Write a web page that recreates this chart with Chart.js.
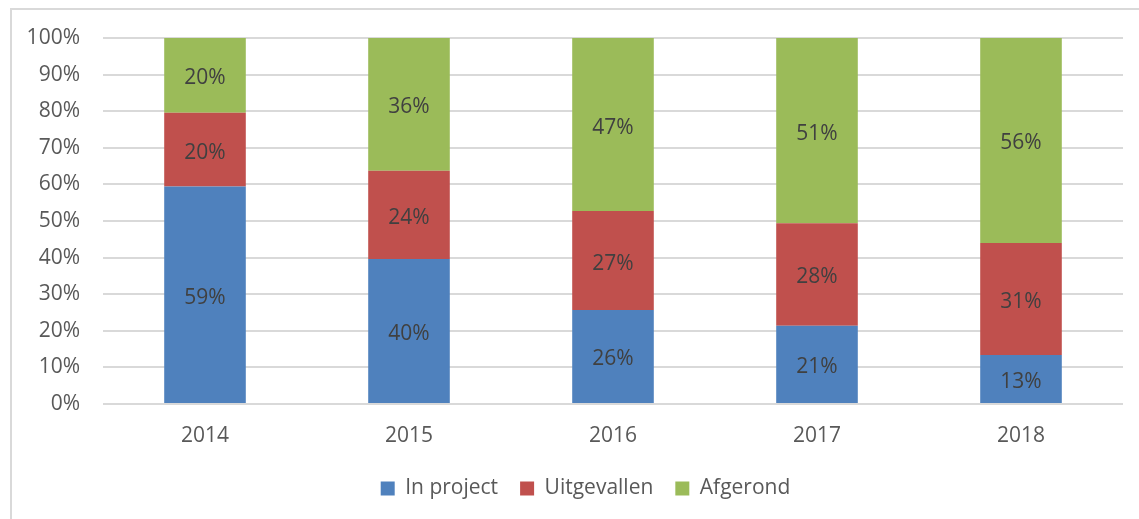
<!DOCTYPE html>
<html>
<head>
    <title>In project / Uitgevallen / Afgerond</title>
    <script src="https://cdn.jsdelivr.net/npm/chart.js@4.4.1/dist/chart.umd.min.js"></script>
    <style>
        html, body {
            margin: 0;
            padding: 0;
            background: #ffffff;
            overflow: hidden;
        }
        #frame {
            position: absolute;
            left: 10px;
            top: 8px;
            width: 1129px;
            height: 511px;
            border-left: 2px solid #d9d9d9;
            border-top: 2px solid #d9d9d9;
        }
        #chart-container {
            position: absolute;
            left: 0;
            top: 0;
            width: 1139px;
            height: 519px;
        }
    </style>
</head>
<body>
    <div id="frame"></div>
    <div id="chart-container">
        <canvas id="statusChart"></canvas>
    </div>
    <script>
        const years = ['2014', '2015', '2016', '2017', '2018'];
        const inProject = [59.4, 39.6, 25.7, 21.4, 13.4];   // %
        const uitgevallen = [20.2, 24.1, 27.0, 28.0, 30.6];  // %
        const afgerond = [20.4, 36.3, 47.3, 50.6, 56.0];     // %
        const yTicks = [0, 10, 20, 30, 40, 50, 60, 70, 80, 90, 100];

        const fontFamily = "'Open Sans', 'Noto Sans', sans-serif";

        // draw the percentage in the middle of every segment
        const segmentLabels = {
            id: 'segmentLabels',
            afterDatasetsDraw(chart) {
                const ctx = chart.ctx;
                ctx.save();
                ctx.font = '21px ' + fontFamily;
                ctx.fillStyle = '#404040';
                ctx.textAlign = 'center';
                ctx.textBaseline = 'middle';
                chart.data.datasets.forEach((ds, i) => {
                    const meta = chart.getDatasetMeta(i);
                    meta.data.forEach((bar, j) => {
                        const p = bar.getProps(['x', 'y', 'base'], true);
                        ctx.fillText(Math.round(ds.data[j]) + '%', p.x, (p.y + p.base) / 2 + 3);
                    });
                });
                ctx.restore();
            }
        };

        // the legend sits a little right of the canvas centre in the original
        const legendShift = {
            id: 'legendShift',
            afterLayout(chart) {
                if (chart.legend) {
                    chart.legend.left += 24;
                    chart.legend.right += 24;
                }
            }
        };

        const ctx = document.getElementById('statusChart').getContext('2d');
        new Chart(ctx, {
            type: 'bar',
            data: {
                labels: years,
                datasets: [
                    { label: 'In project', data: inProject, backgroundColor: '#4f81bd' },
                    { label: 'Uitgevallen', data: uitgevallen, backgroundColor: '#c0504d' },
                    { label: 'Afgerond', data: afgerond, backgroundColor: '#9bbb59' }
                ]
            },
            options: {
                responsive: true,
                maintainAspectRatio: false,
                animation: false,
                datasets: {
                    bar: { barPercentage: 0.4, categoryPercentage: 1.0 }
                },
                layout: {
                    padding: { top: 38, right: 16, bottom: 10, left: 0 }
                },
                scales: {
                    x: {
                        stacked: true,
                        grid: { display: false },
                        border: { display: false },
                        ticks: {
                            color: '#595959',
                            font: { family: fontFamily, size: 21 },
                            padding: 11
                        },
                        afterFit(scale) { scale.height = 52; }
                    },
                    y: {
                        stacked: true,
                        min: 0,
                        max: 100,
                        afterBuildTicks(scale) {
                            scale.ticks = yTicks.map(v => ({ value: v }));
                        },
                        grid: { color: '#d9d9d9', lineWidth: 2, drawTicks: false },
                        border: { display: false },
                        ticks: {
                            color: '#595959',
                            font: { family: fontFamily, size: 21 },
                            padding: 23,
                            callback: v => v + '%'
                        },
                        afterFit(scale) { scale.width = 103; }
                    }
                },
                plugins: {
                    legend: {
                        position: 'bottom',
                        labels: {
                            color: '#595959',
                            font: { family: fontFamily, size: 21 },
                            boxWidth: 14,
                            boxHeight: 14,
                            padding: 22
                        }
                    },
                    tooltip: { enabled: false },
                    title: { display: false }
                }
            },
            plugins: [segmentLabels, legendShift]
        });
    </script>
</body>
</html>
